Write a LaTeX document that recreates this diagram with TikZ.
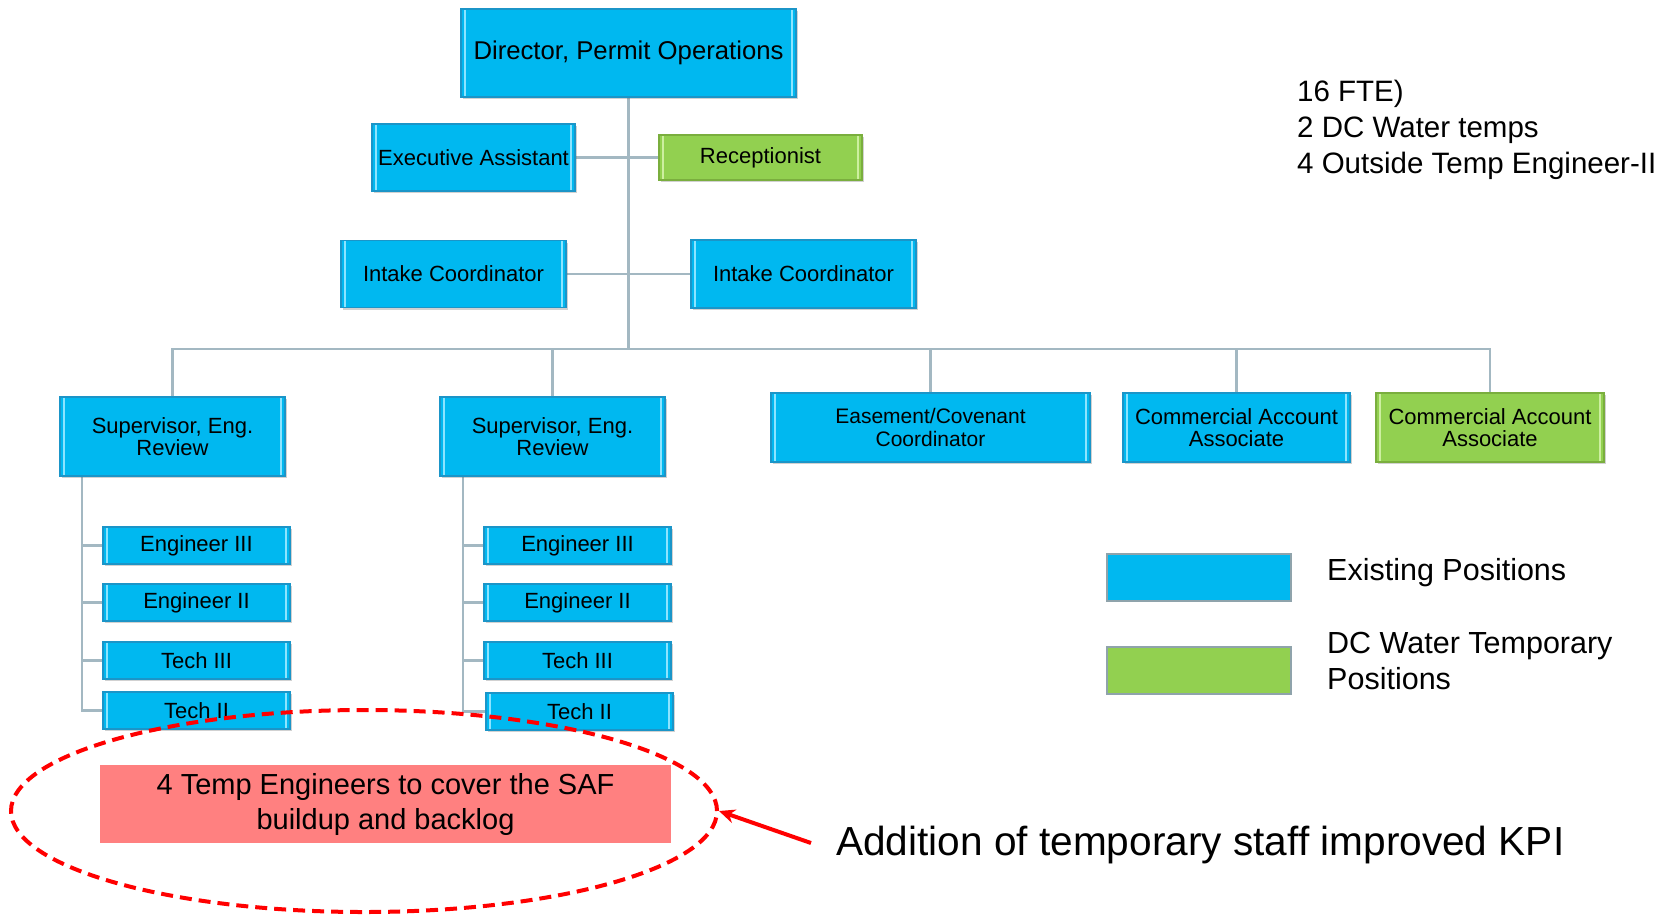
\documentclass[tikz,border=0pt]{standalone}
\usepackage{fontspec}
\setmainfont{Liberation Sans}
\usetikzlibrary{arrows.meta,shadows,shapes.geometric,backgrounds}
\definecolor{bluebox}{HTML}{00B8F0}
\definecolor{blueedge}{HTML}{1B95C8}
\definecolor{bluehi}{HTML}{8CE4FF}
\definecolor{greenbox}{HTML}{92D050}
\definecolor{greenedge}{HTML}{7AAE3E}
\definecolor{greenhi}{HTML}{CDEFA0}
\definecolor{conn}{HTML}{A3B8C2}
\definecolor{pinkbox}{HTML}{FF8080}
\definecolor{legedge}{HTML}{8FA3AB}
\tikzset{
  bevel/.style={path picture={
      \draw[#1, line width=2pt] ([xshift=4pt]path picture bounding box.north west) -- ([xshift=4pt]path picture bounding box.south west);
      \draw[#1, line width=1.5pt] ([xshift=-4pt]path picture bounding box.north east) -- ([xshift=-4pt]path picture bounding box.south east);}},
  posbox/.style={line width=1.2pt, inner sep=0pt, align=center,
      font=\fontsize{22}{22.5}\selectfont,
      drop shadow={shadow xshift=1.5pt, shadow yshift=-2pt, opacity=0.3, fill=black!60}},
  bluepos/.style={posbox, draw=blueedge, fill=bluebox, bevel=bluehi},
  greenpos/.style={posbox, draw=greenedge, fill=greenbox, bevel=greenhi},
  sz/.style 2 args={minimum width=#1pt, minimum height=#2pt},
  conn/.style={draw=conn, line width=2.5pt},
  legbox/.style={draw=legedge, line width=1.5pt, inner sep=0pt},
  plain/.style={inner sep=0pt, align=left},
}
\begin{document}
\begin{tikzpicture}[x=1pt, y=-1pt]
\useasboundingbox (0,0) rectangle (1680,914);
% top level
\node[bluepos, sz={335}{88}, font=\fontsize{25.7}{28}\selectfont] (dir) at (628.5,53) {Director, Permit Operations};
\node[bluepos, sz={203}{67}] (exec) at (473.5,157.5) {Executive Assistant};
\node[greenpos, sz={203}{45}] (recep) at (760.5,157.5) {Receptionist};
\node[bluepos, sz={225}{67}] (in1) at (453.5,274) {Intake Coordinator};
\node[bluepos, sz={225}{68}] (in2) at (803.5,274) {Intake Coordinator};
% second level
\node[bluepos, sz={225}{79}] (sup1) at (172.5,436.5) {Supervisor, Eng.\\Review};
\node[bluepos, sz={225}{79}] (sup2) at (552.5,436.5) {Supervisor, Eng.\\Review};
\node[bluepos, sz={319}{69}, font=\fontsize{21}{22.5}\selectfont] (ease) at (930.5,427.5) {Easement/Covenant\\Coordinator};
\node[bluepos, sz={227}{69}] (comm1) at (1236.5,427.5) {Commercial Account\\Associate};
\node[greenpos, sz={228}{69}] (comm2) at (1490,427.5) {Commercial Account\\Associate};
% staff under supervisors
\node[bluepos, sz={187}{37}] (e3a) at (196.5,545.5) {Engineer III};
\node[bluepos, sz={187}{37}] (e2a) at (196.5,602.5) {Engineer II};
\node[bluepos, sz={187}{37}] (t3a) at (196.5,660.5) {Tech III};
\node[bluepos, sz={187}{37}] (t2a) at (196.5,710.5) {Tech II};
\node[bluepos, sz={187}{37}] (e3b) at (577.5,545.5) {Engineer III};
\node[bluepos, sz={187}{37}] (e2b) at (577.5,602.5) {Engineer II};
\node[bluepos, sz={187}{37}] (t3b) at (577.5,660.5) {Tech III};
\node[bluepos, sz={187}{37}] (t2b) at (579.5,711.5) {Tech II};
% connectors
\coordinate (bus) at (629,349);
\coordinate (v1) at (82,476.5);
\coordinate (v2) at (463,476.5);
\begin{pgfonlayer}{background}
\draw[conn] (dir.south) -- (dir.south |- bus);
\draw[conn] (exec.east) -- (recep.west);
\draw[conn] (in1.east) -- (in2.west);
\draw[conn] (sup1.north) |- (bus) -| (comm2.north);
\draw[conn] (sup2.north) -- (sup2.north |- bus);
\draw[conn] (ease.north) -- (ease.north |- bus);
\draw[conn] (comm1.north) -- (comm1.north |- bus);
\draw[conn] (v1) |- (t2a.west);
\draw[conn] (v1 |- e3a.west) -- (e3a.west);
\draw[conn] (v1 |- e2a.west) -- (e2a.west);
\draw[conn] (v1 |- t3a.west) -- (t3a.west);
\draw[conn] (v2) |- (t2b.west);
\draw[conn] (v2 |- e3b.west) -- (e3b.west);
\draw[conn] (v2 |- e2b.west) -- (e2b.west);
\draw[conn] (v2 |- t3b.west) -- (t3b.west);
\end{pgfonlayer}
% top right note
\node[plain, anchor=north west, font=\fontsize{29.5}{36.4}\selectfont] (fte) at (1297,79.5) {16 FTE)\\2 DC Water temps\\4 Outside Temp Engineer-II};
% legend
\node[legbox, fill=bluebox, sz={184}{47}] (legA) at (1199,577.5) {};
\node[legbox, fill=greenbox, sz={184}{47}] (legB) at (1199,670.5) {};
\node[plain, anchor=base west, font=\fontsize{30.5}{36}\selectfont] (legAt) at (1327,580) {Existing Positions};
\node[plain, anchor=north west, font=\fontsize{30.5}{36}\selectfont] (legBt) at (1327,632) {DC Water Temporary\\Positions};
% temp engineers
\node[fill=pinkbox, sz={571}{78}, inner sep=0pt, align=center, font=\fontsize{29}{35}\selectfont] (pink) at (385.5,804) {4 Temp Engineers to cover the SAF\\buildup and backlog};
\node[draw=red, ellipse, line width=4pt, dash pattern=on 12pt off 7pt, sz={706}{202}, inner sep=0pt] (ell) at (364,811) {};
\node[plain, anchor=base west, font=\fontsize{40.6}{44}\selectfont] (kpi) at (836,855.5) {Addition of temporary staff improved KPI};
\coordinate (arrS) at (811,843);
\draw[red, line width=4pt, -{Stealth[length=16pt, width=14pt]}] (arrS) -- (ell.east);
\end{tikzpicture}
\end{document}
